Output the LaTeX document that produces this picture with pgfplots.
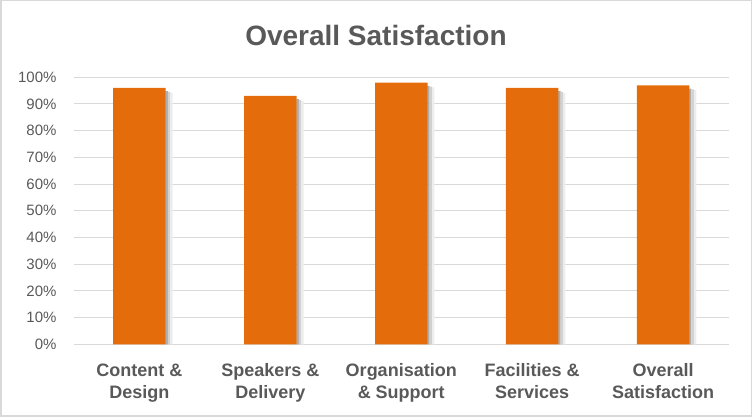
\documentclass[border=0pt]{standalone}
\usepackage{pgfplots}
\pgfplotsset{compat=1.18}
\usepackage{fontspec}
\setmainfont{Liberation Sans}
\definecolor{barorange}{HTML}{E46C0A}
\definecolor{txtgray}{HTML}{595959}
\definecolor{gridgray}{HTML}{D9D9D9}
\begin{document}
\begin{tikzpicture}[x=1pt,y=1pt]
  % chart frame
  \draw[gridgray, line width=1.5pt] (0.75,0.75) rectangle (751.25,416.25);
  \node[txtgray, font=\fontsize{28}{32}\selectfont\bfseries] at (376,382) {Overall Satisfaction};
  \begin{axis}[
      at={(74pt,72.7pt)}, anchor=south west,
      scale only axis, width=654.5pt, height=267pt,
      xmin=-0.5, xmax=4.5, ymin=0, ymax=1,
      enlargelimits=false,
      ytick={0,0.1,0.2,0.3,0.4,0.5,0.6,0.7,0.8,0.9,1},
      yticklabels={0\%,10\%,20\%,30\%,40\%,50\%,60\%,70\%,80\%,90\%,100\%},
      xtick={0,1,2,3,4},
      xticklabels={Content \&\\Design, Speakers \&\\Delivery, Organisation\\\& Support, Facilities \&\\Services, Overall\\Satisfaction},
      major tick length=0pt,
      axis line style={draw=none},
      ymajorgrids, grid style={gridgray, line width=1pt},
      yticklabel style={txtgray, font=\fontsize{15}{18}\selectfont, anchor=east, xshift=-14pt},
      xticklabel style={txtgray, font=\fontsize{18}{22}\selectfont\bfseries, align=center, yshift=-16pt},
      /pgf/number format/assume math mode=true,
    ]
    % soft shadow on the right of each bar, in three strips
    \addplot[ybar, bar width=2.4pt, bar shift=27.2pt, draw=none, fill=black!32, forget plot]
      coordinates {(0,0.948) (1,0.918) (2,0.968) (3,0.948) (4,0.958)};
    \addplot[ybar, bar width=2.4pt, bar shift=29.6pt, draw=none, fill=black!18, forget plot]
      coordinates {(0,0.945) (1,0.915) (2,0.965) (3,0.945) (4,0.955)};
    \addplot[ybar, bar width=2.4pt, bar shift=32pt, draw=none, fill=black!7, forget plot]
      coordinates {(0,0.942) (1,0.912) (2,0.962) (3,0.942) (4,0.952)};
    \addplot[ybar, bar width=52.5pt, bar shift=0pt, draw=none, fill=barorange]
      coordinates {(0,0.96) (1,0.93) (2,0.98) (3,0.96) (4,0.97)};
  \end{axis}
\end{tikzpicture}
\end{document}
